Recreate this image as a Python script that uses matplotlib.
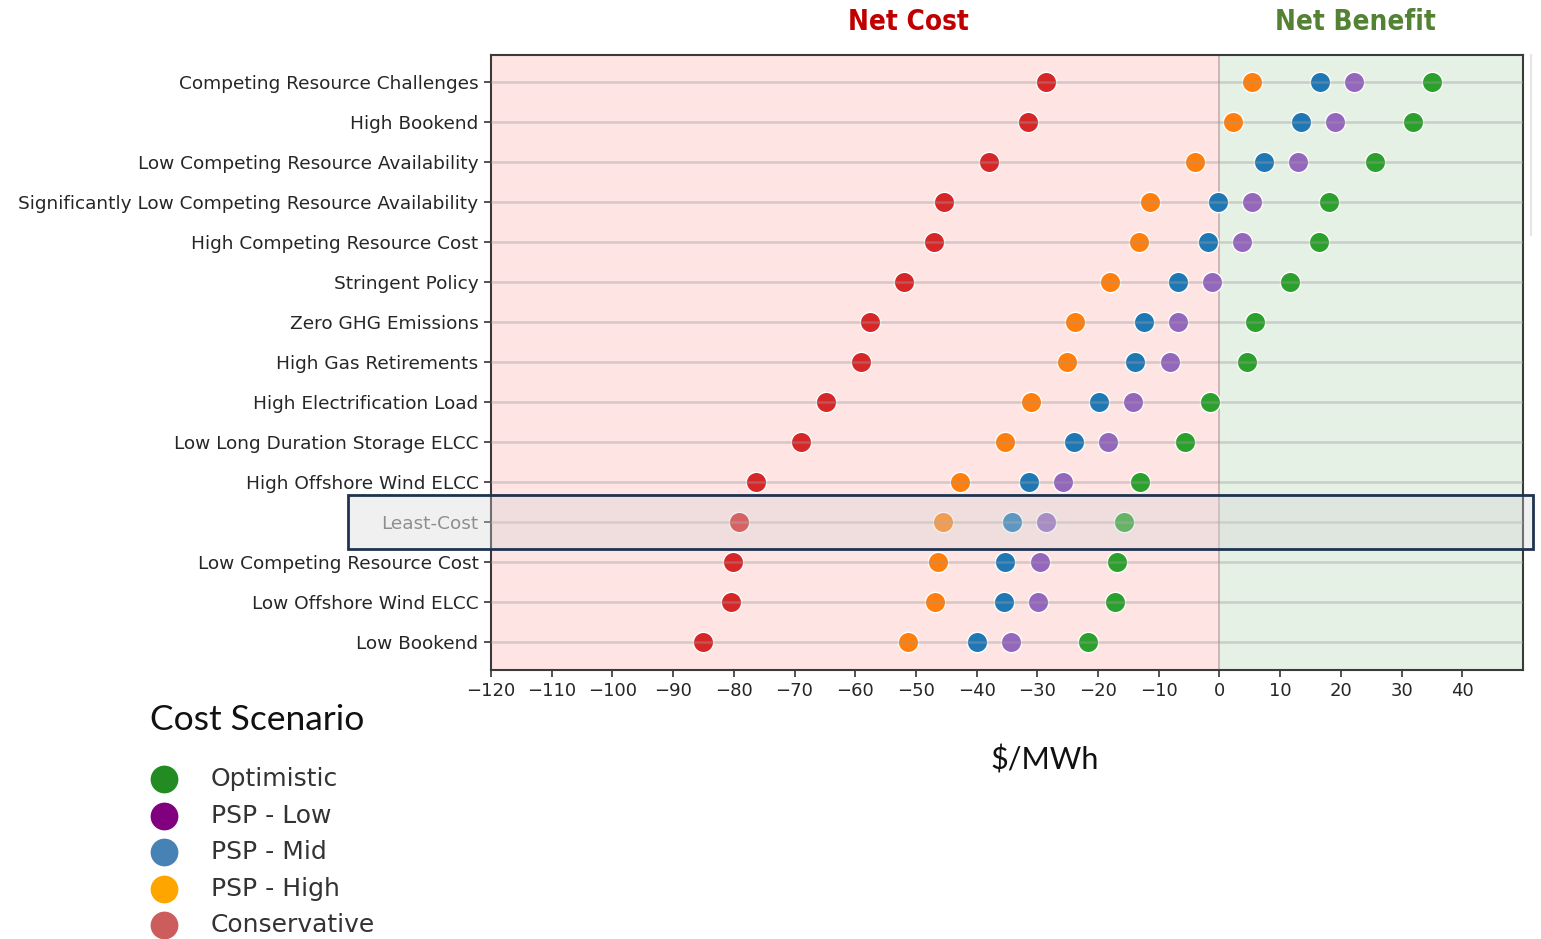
import matplotlib
matplotlib.use("Agg")
import matplotlib.pyplot as plt
from matplotlib.patches import Rectangle
from matplotlib.lines import Line2D

scenarios = [
    "Competing Resource Challenges",
    "High Bookend",
    "Low Competing Resource Availability",
    "Significantly Low Competing Resource Availability",
    "High Competing Resource Cost",
    "Stringent Policy",
    "Zero GHG Emissions",
    "High Gas Retirements",
    "High Electrification Load",
    "Low Long Duration Storage ELCC",
    "High Offshore Wind ELCC",
    "Least-Cost",
    "Low Competing Resource Cost",
    "Low Offshore Wind ELCC",
    "Low Bookend",
]

conservative = [-28.6, -31.6, -37.9, -45.3, -47.0, -51.9, -57.6, -59.0, -64.8, -69.0, -76.4, -79.2, -80.1, -80.5, -85.0]
psp_high = [5.3, 2.2, -4.1, -11.4, -13.2, -18.0, -23.8, -25.1, -31.1, -35.3, -42.7, -45.5, -46.4, -46.8, -51.3]
psp_mid = [16.6, 13.5, 7.3, -0.2, -1.9, -6.8, -12.5, -13.9, -19.9, -24.0, -31.4, -34.2, -35.3, -35.5, -40.0]
psp_low = [22.2, 19.1, 12.9, 5.4, 3.7, -1.2, -6.9, -8.2, -14.3, -18.4, -25.8, -28.6, -29.6, -29.9, -34.4]
optimistic = [35.0, 31.9, 25.6, 18.1, 16.4, 11.6, 5.9, 4.5, -1.5, -5.6, -13.1, -15.8, -16.8, -17.2, -21.7]

x_ticks = list(range(-120, 41, 10))

series = [
    (conservative, "tab:red"),
    (psp_high, "tab:orange"),
    (psp_mid, "tab:blue"),
    (psp_low, "tab:purple"),
    (optimistic, "tab:green"),
]

legend_labels = ["Optimistic", "PSP - Low", "PSP - Mid", "PSP - High", "Conservative"]
legend_colors = ["#228b22", "#800080", "#4682b4", "#ffa500", "#cd5c5c"]

fig = plt.figure(figsize=(15.41, 9.39), dpi=100)
ax = fig.add_axes([491 / 1541, 1 - 670 / 939, (1523 - 491) / 1541, (670 - 55) / 939])

ax.axvspan(-120, 0, color="#ffe4e4", zorder=0, lw=0)
ax.axvspan(0, 50, color="#e5f1e5", zorder=0, lw=0)
ax.axvline(0, color="#b89a9a", lw=1.3, alpha=0.7, zorder=1)

rows = list(range(len(scenarios)))
for vals, col in series:
    ax.scatter(vals, rows, s=215, color=col, edgecolors="white", linewidths=1.0, zorder=3)

for r in rows:
    ax.axhline(r, color="#9a9a9a", lw=1.8, alpha=0.4, zorder=4)

ax.set_xlim(-120, 50)
ax.set_ylim(14.7, -0.675)
ax.set_yticks(rows)
ax.set_yticklabels(scenarios, fontsize=13.3, color="#262626")
ax.set_xticks(x_ticks)
ax.set_xticklabels([f"\u2212{abs(t)}" if t < 0 else str(t) for t in x_ticks], fontsize=13.0, color="#262626")
ax.tick_params(axis="both", length=5, width=1.2, color="#333333", pad=4)
for sp in ax.spines.values():
    sp.set_color("#3a3a3a")
    sp.set_linewidth(1.5)

ax.get_yticklabels()[11].set_color("#6a6a6a")

# highlight band around the Least-Cost row
fig.patches.append(Rectangle((348 / 1541, 1 - 549 / 939), (1533 - 348) / 1541, 54 / 939,
                             transform=fig.transFigure, facecolor="#d4d4d4", alpha=0.35,
                             edgecolor="none", zorder=10))
fig.patches.append(Rectangle((348 / 1541, 1 - 549 / 939), (1533 - 348) / 1541, 54 / 939,
                             transform=fig.transFigure, facecolor="none",
                             edgecolor="#1f3350", lw=2.0, zorder=11))
fig.add_artist(Line2D([1531 / 1541, 1531 / 1541], [1 - 55 / 939, 1 - 235 / 939],
                      transform=fig.transFigure, color="#e6e6e6", lw=1.5))

head_font = dict(fontsize=20, fontweight="bold", family="DejaVu Sans",
                 fontstretch="condensed", ha="center", va="center")
fig.text(908 / 1541, 1 - 22 / 939, "Net Cost", color="#c00000", **head_font)
fig.text(1355 / 1541, 1 - 22 / 939, "Net Benefit", color="#548235", **head_font)

fig.text(1045 / 1541, 1 - 760 / 939, "$/MWh", fontsize=22, color="#111111",
         family=["Lato", "DejaVu Sans"], ha="center", va="center")
fig.text(150 / 1541, 1 - 720 / 939, "Cost Scenario", fontsize=25.5, color="#111111",
         family=["Lato", "DejaVu Sans"], fontweight="normal", ha="left", va="center")

leg_y = [779, 816, 852, 889, 925]
for lab, col, yy in zip(legend_labels, legend_colors, leg_y):
    fig.add_artist(Line2D([164 / 1541], [1 - yy / 939], transform=fig.transFigure,
                          marker="o", markersize=20, color=col, markeredgewidth=0, linestyle="none"))
    fig.text(211 / 1541, 1 - yy / 939, lab, fontsize=18, color="#333333",
             ha="left", va="center")

fig.savefig("out.png", dpi=100)
